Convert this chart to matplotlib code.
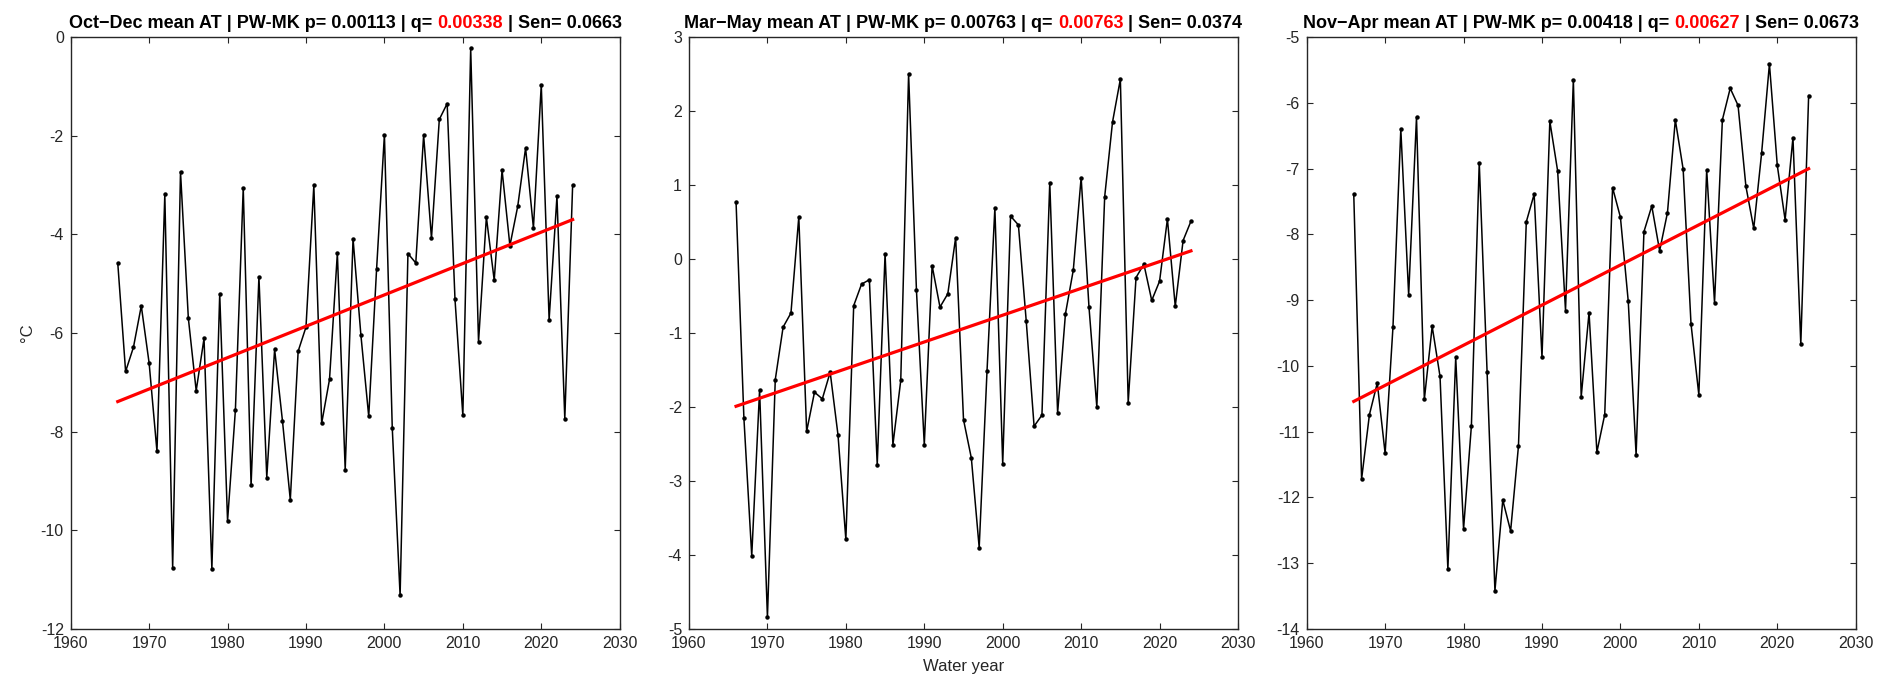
import matplotlib
matplotlib.use('Agg')
import matplotlib.pyplot as plt
import numpy as np

years = np.arange(1966, 2025)

oct_dec = [-4.58, -6.78, -6.29, -5.45, -6.61, -8.40, -3.19, -10.76, -2.73, -5.70,
           -7.17, -6.11, -10.78, -5.21, -9.81, -7.56, -3.06, -9.09, -4.86, -8.93,
           -6.33, -7.78, -9.38, -6.37, -5.88, -3.01, -7.83, -6.94, -4.38, -8.77,
           -4.09, -6.04, -7.69, -4.71, -1.98, -7.92, -11.32, -4.39, -4.58, -1.99,
           -4.08, -1.67, -1.35, -5.32, -7.67, -0.23, -6.18, -3.65, -4.93, -2.70,
           -4.23, -3.43, -2.25, -3.87, -0.97, -5.73, -3.23, -7.74, -3.00]

mar_may = [0.77, -2.15, -4.01, -1.77, -4.84, -1.63, -0.92, -0.73, 0.57, -2.33,
           -1.80, -1.89, -1.53, -2.38, -3.79, -0.63, -0.34, -0.28, -2.78, 0.07,
           -2.51, -1.64, 2.50, -0.42, -2.51, -0.09, -0.65, -0.47, 0.29, -2.17,
           -2.69, -3.90, -1.51, 0.69, -2.77, 0.58, 0.46, -0.84, -2.26, -2.11,
           1.03, -2.08, -0.74, -0.15, 1.10, -0.65, -2.00, 0.84, 1.85, 2.43,
           -1.94, -0.25, -0.07, -0.56, -0.30, 0.54, -0.64, 0.25, 0.51]

nov_apr = [-7.39, -11.72, -10.74, -10.26, -11.33, -9.41, -6.40, -8.92, -6.22, -10.51,
           -9.40, -10.16, -13.09, -9.87, -12.48, -10.91, -6.91, -10.09, -13.42, -12.04,
           -12.51, -11.22, -7.81, -7.39, -9.87, -6.28, -7.04, -9.16, -5.65, -10.47,
           -9.19, -11.31, -10.74, -7.29, -7.74, -9.02, -11.35, -7.96, -7.57, -8.25,
           -7.67, -6.26, -7.01, -9.36, -10.44, -7.02, -9.04, -6.26, -5.78, -6.04,
           -7.27, -7.91, -6.77, -5.41, -6.95, -7.78, -6.53, -9.67, -5.89]

series = [oct_dec, mar_may, nov_apr]

# title pieces: text before q, q value (red), text after
titles = [
    ('Oct\u2212Dec mean AT | PW-MK p= 0.00113 | q=', '0.00338', '| Sen= 0.0663'),
    ('Mar\u2212May mean AT | PW-MK p= 0.00763 | q=', '0.00763', '| Sen= 0.0374'),
    ('Nov\u2212Apr mean AT | PW-MK p= 0.00418 | q=', '0.00627', '| Sen= 0.0673'),
]

# trend line as drawn: value in the first year and slope per year
trend_start = [-7.39, -1.99, -10.54]
trend_slope = [0.0636, 0.0362, 0.0610]

y_limits = [(-12, 0), (-5, 3), (-14, -5)]
y_steps = [2, 1, 1]
x_ticks = np.arange(1960, 2031, 10)

FIG_W, FIG_H = 1892, 695
AX_LEFT = [70.7, 689.0, 1306.7]
AX_WIDTH = 549.0
AX_BOTTOM = 66.0
AX_HEIGHT = 592.0
DARK = '#262626'

plt.rcParams['font.family'] = ['Liberation Sans', 'DejaVu Sans']
plt.rcParams['axes.unicode_minus'] = False

fig = plt.figure(figsize=(FIG_W / 100, FIG_H / 100), dpi=100)
renderer = fig.canvas.get_renderer()

for i, values in enumerate(series):
    ax = fig.add_axes([AX_LEFT[i] / FIG_W, AX_BOTTOM / FIG_H, AX_WIDTH / FIG_W, AX_HEIGHT / FIG_H])

    ax.plot(years, values, '-', color='k', lw=1.1, marker='o', ms=2.2)
    trend = trend_start[i] + trend_slope[i] * (years - years[0])
    ax.plot([years[0], years[-1]], [trend[0], trend[-1]], color='red', lw=2.3)

    lo, hi = y_limits[i]
    ax.set_xlim(1960, 2030)
    ax.set_ylim(lo, hi)
    ax.set_xticks(x_ticks)
    ax.set_yticks(np.arange(lo, hi + 0.001, y_steps[i]))

    ax.tick_params(direction='in', top=True, right=True, length=4, width=0.8,
                   color=DARK, labelcolor=DARK, labelsize=11.5, pad=5)
    for spine in ax.spines.values():
        spine.set_color(DARK)
        spine.set_linewidth(1.0)

    # title with the q value in red: centre the whole string, then draw it in pieces
    head, q, tail = titles[i]
    kw = dict(fontsize=13, fontweight='bold', va='bottom')
    probe = ax.text(0.5, 1.008, head + ' ' + q + ' ' + tail, transform=ax.transAxes, ha='center', **kw)
    left = ax.transAxes.inverted().transform(probe.get_window_extent(renderer))[0][0]
    probe.remove()
    space = 3.6
    t1 = ax.text(left, 1.008, head, transform=ax.transAxes, ha='left', color='k', **kw)
    t2 = ax.annotate(q, xy=(1, 0), xycoords=t1, xytext=(space, 0), textcoords='offset points',
                     ha='left', color='red', **kw)
    ax.annotate(tail, xy=(1, 0), xycoords=t2, xytext=(space, 0), textcoords='offset points',
                ha='left', color='k', **kw)

    if i == 0:
        ax.set_ylabel('\u00b0C', fontsize=12, color=DARK, labelpad=4)
    if i == 1:
        ax.set_xlabel('Water year', fontsize=12, color=DARK, labelpad=6)

fig.savefig('out.png', dpi=100)
